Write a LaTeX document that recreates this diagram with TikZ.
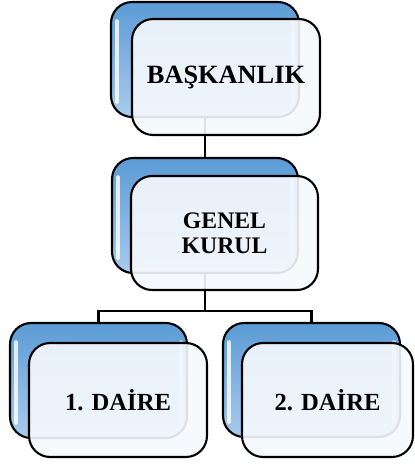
\documentclass[tikz,border=0pt]{standalone}
\usepackage{fontspec}
\setmainfont{Liberation Serif}
\usetikzlibrary{calc}

\definecolor{backtop}{HTML}{5B9BD5}
\definecolor{backbot}{HTML}{A9CBEE}
\definecolor{frontfill}{HTML}{F6F9FD}
\tikzset{
	backbox/.style={draw, line width=1.2pt, rounded corners=12, top color=backtop, bottom color=backbot, inner sep=0pt},
	frontbox/.style={draw, line width=1.2pt, rounded corners=12, fill=frontfill, fill opacity=.9, text opacity=1, inner sep=0pt, font=\bfseries, align=center},
	link/.style={line width=1.5pt}
}

\begin{document}
\begin{tikzpicture}[x=0.02cm, y=-0.02cm]
	\useasboundingbox (0,0) rectangle (414,464);
	
	%back boxes
	\node[backbox, minimum width=3.76cm, minimum height=2.3cm] (baskb) at (205,59.5) {};
	\node[backbox, minimum width=3.72cm, minimum height=2.3cm] (genelb) at (205,215.5) {};
	\node[backbox, minimum width=3.54cm, minimum height=2.3cm] (d1b) at (98.5,380.5) {};
	\node[backbox, minimum width=3.54cm, minimum height=2.28cm] (d2b) at (311.5,380) {};
	
	%highlights
	\foreach \n in {baskb,genelb,d1b,d2b}{
		\draw[white, line width=2pt, opacity=.8, line cap=round] ($(\n.north west)+(7,20)$) -- ($(\n.south west)+(7,-16)$);
		\draw[white, line width=2pt, opacity=.5, line cap=round] ($(\n.north east)+(-7,20)$) -- ($(\n.south east)+(-7,-16)$);
	}
	
	%links
	\draw[link] (baskb.south) -- (genelb.north);
	\draw[link] (genelb.south) -- ++(0,37) -| (d1b.north);
	\draw[link] (genelb.south) -- ++(0,37) -| (d2b.north);
	
	%front boxes
	\node[frontbox, minimum width=3.76cm, minimum height=2.32cm, font=\fontsize{15}{17}\selectfont\bfseries] (bask) at (226,77) {BAŞKANLIK};
	\node[frontbox, minimum width=3.74cm, minimum height=2.28cm, font=\fontsize{13.5}{14.2}\selectfont\bfseries] (genel) at (224.5,233) {GENEL\\KURUL};
	\node[frontbox, minimum width=3.56cm, minimum height=2.28cm, font=\fontsize{14}{16}\selectfont\bfseries] (d1) at (118,400) {1. DAİRE};
	\node[frontbox, minimum width=3.42cm, minimum height=2.28cm, font=\fontsize{14}{16}\selectfont\bfseries] (d2) at (327.5,400) {2. DAİRE};
\end{tikzpicture}
\end{document}
